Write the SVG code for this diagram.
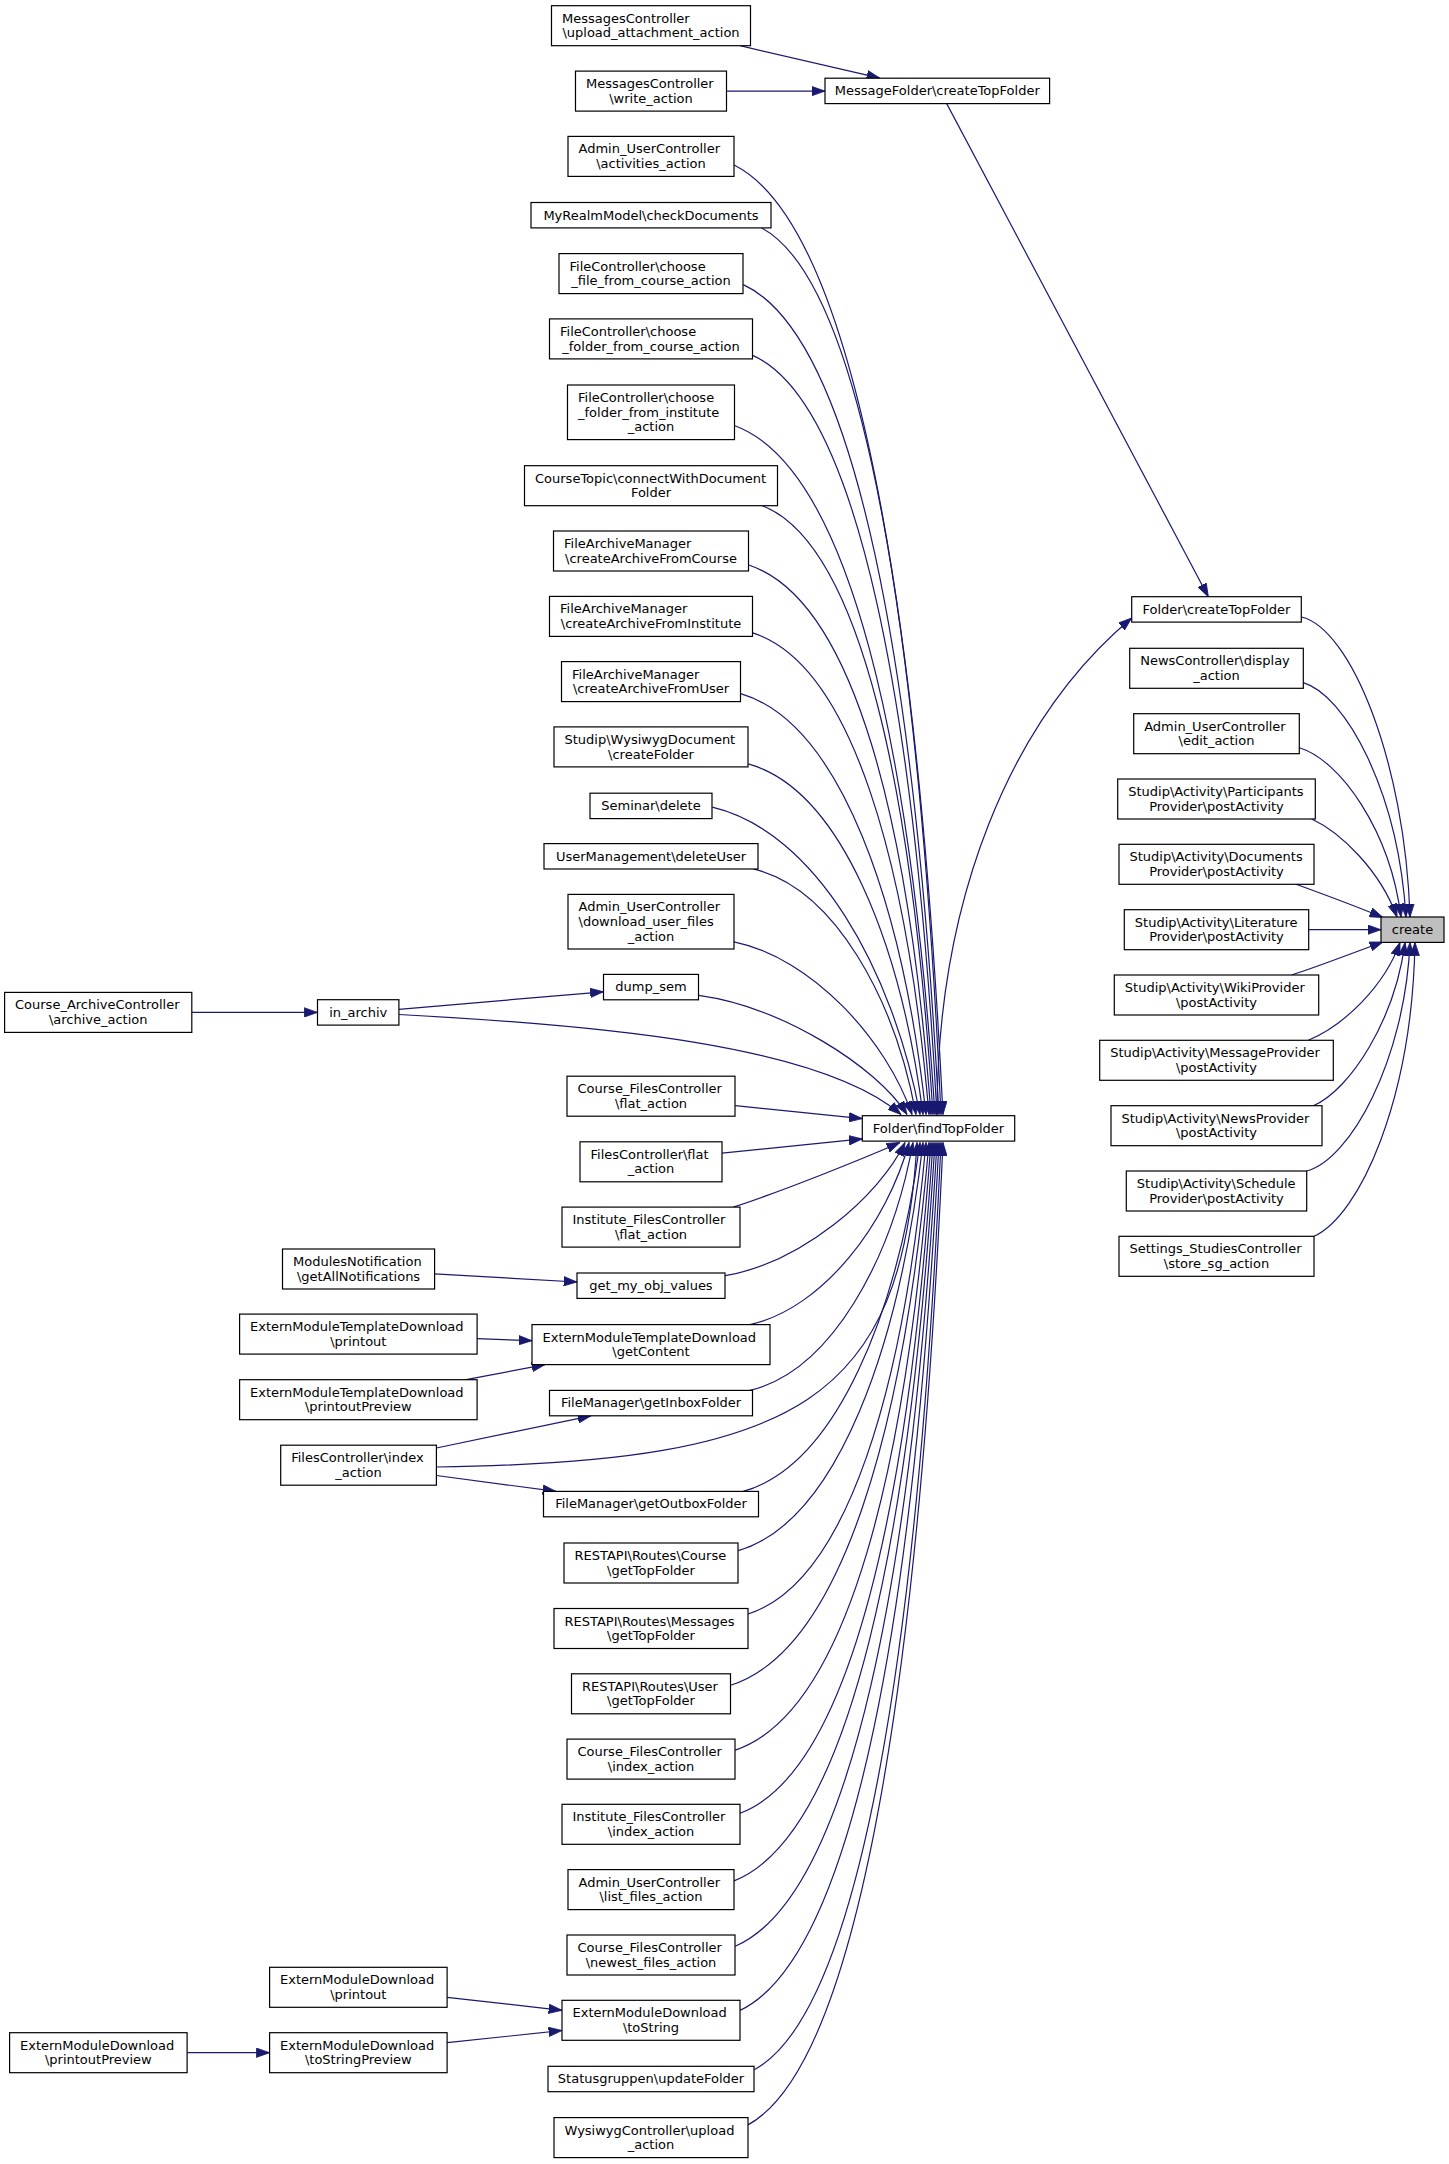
<svg xmlns="http://www.w3.org/2000/svg" width="1449" height="2164" viewBox="0 0 1449 2164">
<style>
.n rect{fill:#ffffff;stroke:#000000;stroke-width:1.2}
.n.root rect{fill:#bfbfbf}
text{font-family:"DejaVu Sans","Liberation Sans",sans-serif;font-size:13px;fill:#000000}
.c{text-anchor:middle}
#edges path{fill:none;stroke:#191970;stroke-width:1.2;marker-end:url(#a)}
</style>
<defs>
<marker id="a" markerUnits="userSpaceOnUse" markerWidth="14" markerHeight="10" viewBox="0 0 14 10" refX="13.3" refY="5" orient="auto"><path d="M0,0.3 L13.3,5 L0,9.7 Z" fill="#191970" stroke="#191970" stroke-width="0.8"/></marker>
</defs>
<rect x="0" y="0" width="1449" height="2164" fill="#ffffff"/>
<g id="edges">
<path d="M740,45.7 L880,78.2"/>
<path d="M726.5,91.1 L825,91.1"/>
<path d="M946.7,103.6 L1208.3,596.7"/>
<path d="M937,1115.7 C937,900 1010,720 1131.7,618"/>
<path d="M1301.3,617 C1350,628 1405,760 1410,917"/>
<path d="M1303.3,682.7 C1345,695 1398,790 1406,917"/>
<path d="M1299.3,747.7 C1340,760 1390,830 1401,917"/>
<path d="M1311.7,819 C1340,832 1380,870 1397,917"/>
<path d="M1296,884.3 C1320,893 1355,906 1383,917.5"/>
<path d="M1308.7,929.7 L1381,929.7"/>
<path d="M1291.7,975 C1320,966 1355,952 1383,942"/>
<path d="M1308.3,1040.3 C1345,1025 1385,985 1400,942.4"/>
<path d="M1313.3,1105.7 C1350,1090 1395,1020 1405,942.4"/>
<path d="M1306.7,1171 C1350,1160 1405,1060 1410,942.4"/>
<path d="M1314,1236.3 C1360,1215 1412,1100 1415,942.4"/>
<path d="M734,165 C855,225 918,611.5 943,1114.5"/>
<path d="M761.7,227.9 C865.7,283.9 919.5,644.5 941,1114.5"/>
<path d="M743.3,284.6 C856.8,336.9 915.5,674.7 939,1114.5"/>
<path d="M752.7,355.4 C859.6,403.2 914.9,712.2 937,1114.5"/>
<path d="M735,425.7 C851,469.1 911,749.4 935,1114.5"/>
<path d="M762.3,505.7 C861.3,544.1 912.5,791.8 933,1114.5"/>
<path d="M748.7,565 C854.4,599.6 909.1,823.3 931,1114.5"/>
<path d="M752.7,632.9 C852.5,664.7 907.5,864.5 929,1114.5"/>
<path d="M740.7,693.6 C840.9,723.5 902.8,904 926,1114.5"/>
<path d="M748.3,763.9 C840.4,789.8 900.8,942.7 923,1114.5"/>
<path d="M712.3,807.1 C816,831.7 893,970 920,1114.5"/>
<path d="M753.3,868.9 C834.7,888.5 894.8,999 916,1114.5"/>
<path d="M734,941.8 C812.3,957.9 886.7,1040.4 912,1114.5"/>
<path d="M698.7,995.4 C782,1007 876,1066 907,1114.5"/>
<path d="M398.9,1014.5 C600,1025 820,1045 901,1114.5"/>
<path d="M735.3,1105.7 L862.3,1118.6"/>
<path d="M722,1153.2 L862.3,1138.9"/>
<path d="M733.3,1207.1 C780,1192 860,1160 900,1142.5"/>
<path d="M725.3,1275.7 C800.8,1262.8 878.8,1197.1 905,1142.5"/>
<path d="M750,1324.6 C823.3,1308.3 887.4,1223.2 909,1142.5"/>
<path d="M750,1390.4 C831.5,1370.6 891.8,1259 913,1142.5"/>
<path d="M436.4,1467 C800,1462 902,1400 917,1142.5"/>
<path d="M743.3,1491.4 C836.1,1465.2 897.6,1313.1 920,1142.5"/>
<path d="M738.3,1550.7 C837.7,1521.3 899.9,1345.8 923,1142.5"/>
<path d="M748,1614 C847.9,1582.4 904.1,1385.8 926,1142.5"/>
<path d="M730.7,1685.2 C843,1649.4 904.8,1424.2 929,1142.5"/>
<path d="M735.3,1750.1 C848.8,1711.8 907.5,1464.5 931,1142.5"/>
<path d="M740,1813.3 C851.9,1771 909.8,1498 933,1142.5"/>
<path d="M734,1880.9 C850.6,1834.4 910.9,1533.9 935,1142.5"/>
<path d="M735.3,1946.2 C852.3,1895.6 912.8,1568.5 937,1142.5"/>
<path d="M740,2010.4 C855.4,1955.7 915.1,1602.5 939,1142.5"/>
<path d="M754.3,2069.7 C862.6,2011.3 918.6,1633.9 941,1142.5"/>
<path d="M748,2124.9 C861.1,2063 919.6,1663.8 943,1142.5"/>
<path d="M191.8,1012.4 L317.5,1012.4"/>
<path d="M398.9,1009.3 L603.5,991.8"/>
<path d="M434.6,1273.8 L577,1282"/>
<path d="M477.1,1338.6 L532,1340.7"/>
<path d="M466,1379.7 L545,1364.6"/>
<path d="M436.4,1448 L591,1415.8"/>
<path d="M436.4,1475.5 L556,1491.4"/>
<path d="M447.1,1997.3 L562,2010.3"/>
<path d="M447.1,2042.7 L562,2030.5"/>
<path d="M187.1,2052.7 L269.6,2052.7"/>
</g>
<g id="n1" class="n"><rect x="551.5" y="5.7" width="199" height="40"/><text x="562" y="22.7">MessagesController</text><text class="c" x="651" y="37.3">\upload_attachment_action</text></g>
<g id="n2" class="n"><rect x="575.5" y="71.1" width="151" height="40"/><text x="586" y="88.1">MessagesController</text><text class="c" x="651" y="102.7">\write_action</text></g>
<g id="n3" class="n"><rect x="568" y="136.4" width="166" height="40"/><text x="578.5" y="153.4">Admin_UserController</text><text class="c" x="651" y="168">\activities_action</text></g>
<g id="n4" class="n"><rect x="531" y="202.5" width="240" height="25.4"/><text class="c" x="651" y="219.5">MyRealmModel\checkDocuments</text></g>
<g id="n5" class="n"><rect x="559" y="253.6" width="184" height="40"/><text x="569.5" y="270.6">FileController\choose</text><text class="c" x="651" y="285.2">_file_from_course_action</text></g>
<g id="n6" class="n"><rect x="549.5" y="318.9" width="203" height="40"/><text x="560" y="335.9">FileController\choose</text><text class="c" x="651" y="350.5">_folder_from_course_action</text></g>
<g id="n7" class="n"><rect x="567.5" y="385" width="167" height="54.6"/><text x="578" y="402">FileController\choose</text><text x="578" y="416.6">_folder_from_institute</text><text class="c" x="651" y="431.2">_action</text></g>
<g id="n8" class="n"><rect x="524.5" y="465.7" width="253" height="40"/><text x="535" y="482.7">CourseTopic\connectWithDocument</text><text class="c" x="651" y="497.3">Folder</text></g>
<g id="n9" class="n"><rect x="553.5" y="531" width="195" height="40"/><text x="564" y="548">FileArchiveManager</text><text class="c" x="651" y="562.6">\createArchiveFromCourse</text></g>
<g id="n10" class="n"><rect x="549.5" y="596.4" width="203" height="40"/><text x="560" y="613.4">FileArchiveManager</text><text class="c" x="651" y="628">\createArchiveFromInstitute</text></g>
<g id="n11" class="n"><rect x="561.5" y="661.6" width="179" height="40"/><text x="572" y="678.6">FileArchiveManager</text><text class="c" x="651" y="693.2">\createArchiveFromUser</text></g>
<g id="n12" class="n"><rect x="554" y="726.9" width="194" height="40"/><text x="564.5" y="743.9">Studip\WysiwygDocument</text><text class="c" x="651" y="758.5">\createFolder</text></g>
<g id="n13" class="n"><rect x="590" y="793.2" width="122" height="25.4"/><text class="c" x="651" y="810.2">Seminar\delete</text></g>
<g id="n14" class="n"><rect x="544" y="843.6" width="214" height="25.4"/><text class="c" x="651" y="860.6">UserManagement\deleteUser</text></g>
<g id="n15" class="n"><rect x="568" y="894.4" width="166" height="54.6"/><text x="578.5" y="911.4">Admin_UserController</text><text x="578.5" y="926">\download_user_files</text><text class="c" x="651" y="940.6">_action</text></g>
<g id="n16" class="n"><rect x="603.5" y="974.4" width="95" height="25.4"/><text class="c" x="651" y="991.4">dump_sem</text></g>
<g id="n17" class="n"><rect x="567" y="1076.2" width="168" height="40"/><text x="577.5" y="1093.2">Course_FilesController</text><text class="c" x="651" y="1107.8">\flat_action</text></g>
<g id="n18" class="n"><rect x="580" y="1141.8" width="142" height="40"/><text x="590.5" y="1158.8">FilesController\flat</text><text class="c" x="651" y="1173.4">_action</text></g>
<g id="n19" class="n"><rect x="562" y="1207.1" width="178" height="40"/><text x="572.5" y="1224.1">Institute_FilesController</text><text class="c" x="651" y="1238.7">\flat_action</text></g>
<g id="n20" class="n"><rect x="577" y="1273" width="148" height="25.4"/><text class="c" x="651" y="1290">get_my_obj_values</text></g>
<g id="n21" class="n"><rect x="532" y="1324.6" width="238" height="40"/><text x="542.5" y="1341.6">ExternModuleTemplateDownload</text><text class="c" x="651" y="1356.2">\getContent</text></g>
<g id="n22" class="n"><rect x="549.5" y="1390.4" width="203" height="25.4"/><text class="c" x="651" y="1407.4">FileManager\getInboxFolder</text></g>
<g id="n23" class="n"><rect x="543.5" y="1491.4" width="215" height="25.4"/><text class="c" x="651" y="1508.4">FileManager\getOutboxFolder</text></g>
<g id="n24" class="n"><rect x="564" y="1543" width="174" height="40"/><text x="574.5" y="1560">RESTAPI\Routes\Course</text><text class="c" x="651" y="1574.6">\getTopFolder</text></g>
<g id="n25" class="n"><rect x="554" y="1608.5" width="194" height="40"/><text x="564.5" y="1625.5">RESTAPI\Routes\Messages</text><text class="c" x="651" y="1640.1">\getTopFolder</text></g>
<g id="n26" class="n"><rect x="571.5" y="1673.8" width="159" height="40"/><text x="582" y="1690.8">RESTAPI\Routes\User</text><text class="c" x="651" y="1705.4">\getTopFolder</text></g>
<g id="n27" class="n"><rect x="567" y="1739.1" width="168" height="40"/><text x="577.5" y="1756.1">Course_FilesController</text><text class="c" x="651" y="1770.7">\index_action</text></g>
<g id="n28" class="n"><rect x="562" y="1804.3" width="178" height="40"/><text x="572.5" y="1821.3">Institute_FilesController</text><text class="c" x="651" y="1835.9">\index_action</text></g>
<g id="n29" class="n"><rect x="568" y="1869.6" width="166" height="40"/><text x="578.5" y="1886.6">Admin_UserController</text><text class="c" x="651" y="1901.2">\list_files_action</text></g>
<g id="n30" class="n"><rect x="567" y="1935" width="168" height="40"/><text x="577.5" y="1952">Course_FilesController</text><text class="c" x="651" y="1966.6">\newest_files_action</text></g>
<g id="n31" class="n"><rect x="562" y="2000.3" width="178" height="40"/><text x="572.5" y="2017.3">ExternModuleDownload</text><text class="c" x="651" y="2031.9">\toString</text></g>
<g id="n32" class="n"><rect x="548" y="2066.3" width="206" height="25.4"/><text class="c" x="651" y="2083.3">Statusgruppen\updateFolder</text></g>
<g id="n33" class="n"><rect x="554" y="2117.6" width="194" height="40"/><text x="564.5" y="2134.6">WysiwygController\upload</text><text class="c" x="651" y="2149.2">_action</text></g>
<g id="n34" class="n"><rect x="825" y="78.2" width="224.6" height="25.4"/><text class="c" x="937.3" y="95.2">MessageFolder\createTopFolder</text></g>
<g id="n35" class="n"><rect x="862.3" y="1115.7" width="152.4" height="25.4"/><text class="c" x="938.5" y="1132.7">Folder\findTopFolder</text></g>
<g id="n36" class="n"><rect x="1131.7" y="596.7" width="169.6" height="25.4"/><text class="c" x="1216.5" y="613.7">Folder\createTopFolder</text></g>
<g id="n37" class="n"><rect x="1129.7" y="648.3" width="173.6" height="40"/><text x="1140.2" y="665.3">NewsController\display</text><text class="c" x="1216.5" y="679.9">_action</text></g>
<g id="n38" class="n"><rect x="1133.7" y="713.7" width="165.6" height="40"/><text x="1144.2" y="730.7">Admin_UserController</text><text class="c" x="1216.5" y="745.3">\edit_action</text></g>
<g id="n39" class="n"><rect x="1117.7" y="779" width="197.6" height="40"/><text x="1128.2" y="796">Studip\Activity\Participants</text><text class="c" x="1216.5" y="810.6">Provider\postActivity</text></g>
<g id="n40" class="n"><rect x="1119" y="844.3" width="195" height="40"/><text x="1129.5" y="861.3">Studip\Activity\Documents</text><text class="c" x="1216.5" y="875.9">Provider\postActivity</text></g>
<g id="n41" class="n"><rect x="1124.3" y="909.7" width="184.4" height="40"/><text x="1134.8" y="926.7">Studip\Activity\Literature</text><text class="c" x="1216.5" y="941.3">Provider\postActivity</text></g>
<g id="n42" class="n"><rect x="1114.3" y="975" width="204.4" height="40"/><text x="1124.8" y="992">Studip\Activity\WikiProvider</text><text class="c" x="1216.5" y="1006.6">\postActivity</text></g>
<g id="n43" class="n"><rect x="1099.7" y="1040.3" width="233.6" height="40"/><text x="1110.2" y="1057.3">Studip\Activity\MessageProvider</text><text class="c" x="1216.5" y="1071.9">\postActivity</text></g>
<g id="n44" class="n"><rect x="1111" y="1105.7" width="211" height="40"/><text x="1121.5" y="1122.7">Studip\Activity\NewsProvider</text><text class="c" x="1216.5" y="1137.3">\postActivity</text></g>
<g id="n45" class="n"><rect x="1126.3" y="1171" width="180.4" height="40"/><text x="1136.8" y="1188">Studip\Activity\Schedule</text><text class="c" x="1216.5" y="1202.6">Provider\postActivity</text></g>
<g id="n46" class="n"><rect x="1119" y="1236.3" width="195" height="40"/><text x="1129.5" y="1253.3">Settings_StudiesController</text><text class="c" x="1216.5" y="1267.9">\store_sg_action</text></g>
<g id="n47" class="n root"><rect x="1381" y="917" width="63" height="25.4"/><text class="c" x="1412.5" y="934">create</text></g>
<g id="n48" class="n"><rect x="317.5" y="999.7" width="81.4" height="25.4"/><text class="c" x="358.2" y="1016.7">in_archiv</text></g>
<g id="n49" class="n"><rect x="282.5" y="1249" width="152.1" height="40"/><text x="293" y="1266">ModulesNotification</text><text class="c" x="358.55" y="1280.6">\getAllNotifications</text></g>
<g id="n50" class="n"><rect x="239.6" y="1314.1" width="237.5" height="40"/><text x="250" y="1331.1">ExternModuleTemplateDownload</text><text class="c" x="358.35" y="1345.7">\printout</text></g>
<g id="n51" class="n"><rect x="239.6" y="1379.7" width="237.5" height="40"/><text x="250" y="1396.7">ExternModuleTemplateDownload</text><text class="c" x="358.35" y="1411.3">\printoutPreview</text></g>
<g id="n52" class="n"><rect x="280.7" y="1445.2" width="155.7" height="40"/><text x="291.2" y="1462.2">FilesController\index</text><text class="c" x="358.55" y="1476.8">_action</text></g>
<g id="n53" class="n"><rect x="269.6" y="1967.3" width="177.5" height="40"/><text x="280" y="1984.3">ExternModuleDownload</text><text class="c" x="358.35" y="1998.9">\printout</text></g>
<g id="n54" class="n"><rect x="269.6" y="2032.7" width="177.5" height="40"/><text x="280" y="2049.7">ExternModuleDownload</text><text class="c" x="358.35" y="2064.3">\toStringPreview</text></g>
<g id="n55" class="n"><rect x="4.6" y="992.4" width="187.2" height="40"/><text x="15" y="1009.4">Course_ArchiveController</text><text class="c" x="98.2" y="1024">\archive_action</text></g>
<g id="n56" class="n"><rect x="9.6" y="2032.7" width="177.5" height="40"/><text x="20" y="2049.7">ExternModuleDownload</text><text class="c" x="98.35" y="2064.3">\printoutPreview</text></g>
</svg>
